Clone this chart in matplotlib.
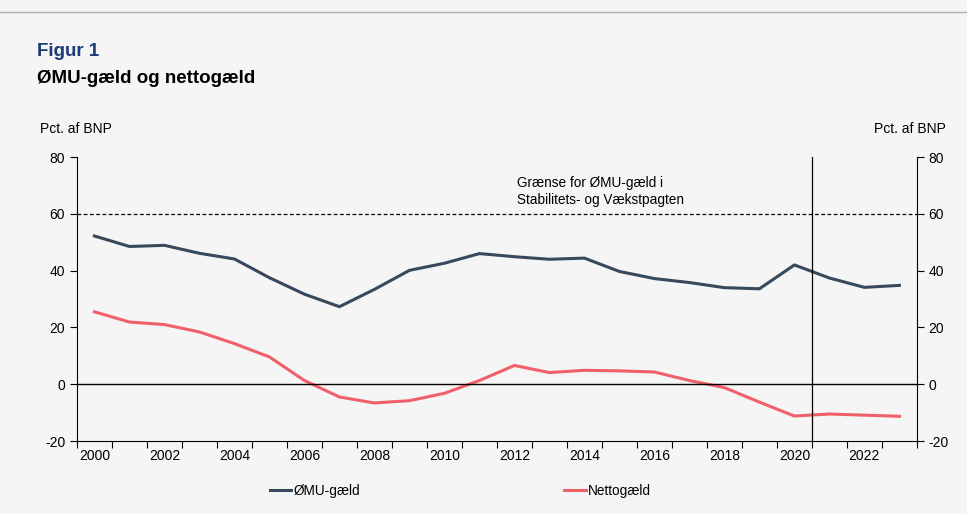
import matplotlib
matplotlib.use("Agg")
import matplotlib.pyplot as plt
import numpy as np

plt.rcParams['font.family'] = ['Liberation Sans', 'DejaVu Sans']
plt.rcParams['axes.unicode_minus'] = False

years = list(range(2000, 2024))
emu_debt = [52.2, 48.5, 48.9, 46.1, 44.1, 37.5, 31.7, 27.3, 33.4, 40.1, 42.6, 46.0,
            44.9, 44.0, 44.4, 39.7, 37.2, 35.8, 34.0, 33.6, 42.0, 37.4, 34.1, 34.8]
net_debt = [25.5, 21.9, 21.0, 18.4, 14.3, 9.6, 1.3, -4.5, -6.6, -5.8, -3.2, 1.3,
            6.6, 4.1, 4.9, 4.7, 4.3, 1.3, -1.2, -6.3, -11.2, -10.5, -10.9, -11.3]
yticks = [-20, 0, 20, 40, 60, 80]
limit = 60

bg = '#f5f5f5'
c_emu = '#37495a'
c_net = '#f0606b'

fig = plt.figure(figsize=(9.67, 5.14), dpi=100, facecolor=bg)
ax = fig.add_axes([0.0796, 0.142, 0.8686, 0.5525], facecolor=bg)

x = np.arange(len(years))
ax.plot(x, emu_debt, color=c_emu, lw=2.2, label='ØMU-gæld')
ax.plot(x, net_debt, color=c_net, lw=2.2, label='Nettogæld')
ax.axhline(0, color='black', lw=1)
ax.axhline(limit, color='black', lw=0.9, ls=(0, (3, 2)))
ax.axvline(20.5, color='black', lw=0.9)

ax.text(12.07, 62.3, 'Grænse for ØMU-gæld i\nStabilitets- og Vækstpagten',
        fontsize=9.8, va='bottom', ha='left', linespacing=1.3)

ax.set_xlim(-0.5, len(years) - 0.5)
ax.set_ylim(-20, 80)
ax.set_yticks(yticks)
ax.set_xticks(np.arange(-0.5, len(years), 1), minor=False)
ax.set_xticklabels([])
ax.set_xticks(x[::2], minor=True)
ax.set_xticklabels([str(y) for y in years[::2]], minor=True, fontsize=10)
ax.tick_params(axis='x', which='minor', length=0, pad=6)
ax.tick_params(axis='x', which='major', length=5, direction='out', width=0.8)
ax.tick_params(axis='y', length=5, width=0.8, labelsize=10)
ax.spines['top'].set_visible(False)
ax.spines['right'].set_visible(False)

ax2 = ax.twinx()
ax2.set_ylim(-20, 80)
ax2.set_yticks(yticks)
ax2.tick_params(axis='y', length=5, width=0.8, labelsize=10)
ax2.spines['top'].set_visible(False)
ax2.spines['left'].set_visible(False)
ax2.spines['bottom'].set_visible(False)

fig.text(0.0383, 0.90, 'Figur 1', fontsize=13.5, fontweight='bold', color='#1b3a78', va='center')
fig.text(0.0383, 0.848, 'ØMU-gæld og nettogæld', fontsize=13.5, fontweight='bold', color='black', va='center')
fig.text(0.0414, 0.749, 'Pct. af BNP', fontsize=10, va='center')
fig.text(0.978, 0.749, 'Pct. af BNP', fontsize=10, va='center', ha='right')

fig.add_artist(plt.Line2D([0.0, 1.0], [0.977, 0.977], color='#b0b0b0', lw=1))

fig.legend(loc='center', bbox_to_anchor=(0.476, 0.045), ncol=2, frameon=False,
           fontsize=9.8, handlelength=1.6, handletextpad=0.15, columnspacing=15.0)

fig.savefig('out.png', dpi=100, facecolor=bg)
